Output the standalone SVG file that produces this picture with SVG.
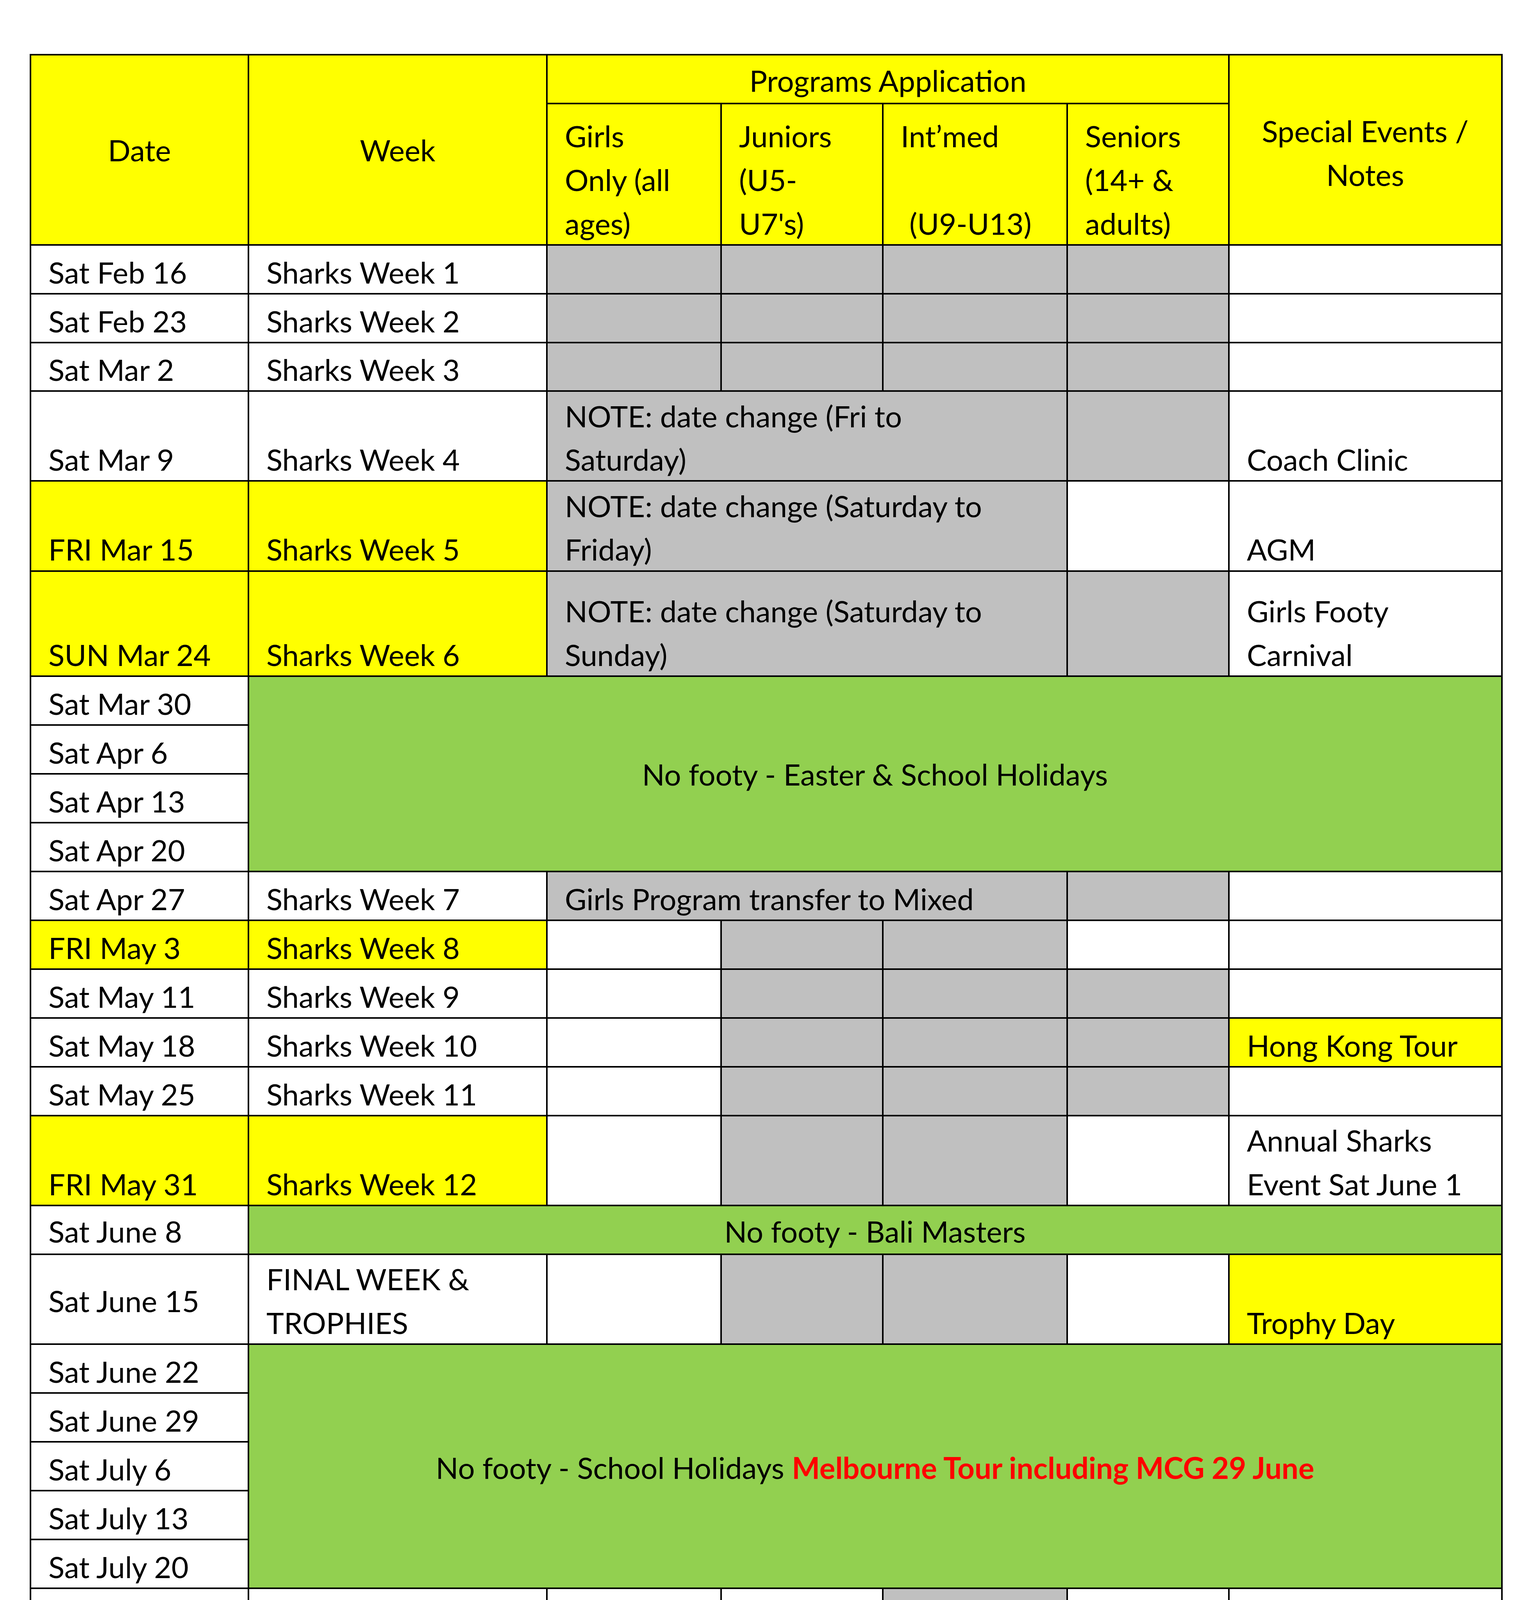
<svg xmlns="http://www.w3.org/2000/svg" width="3922" height="5148" viewBox="0 0 3922 5148">
<style>
rect{stroke:#000;stroke-width:4}
.y{fill:#ffff00}.g{fill:#c0c0c0}.w{fill:#fff}.gr{fill:#92d050}
text{font-family:Lato,"Open Sans","Liberation Sans",sans-serif;font-size:76px;fill:#000}
.c{text-anchor:middle}
.r{fill:#ff0000;font-weight:bold}
</style>
<rect x="0" y="0" width="3922" height="5148" fill="#fff" style="stroke:none"/>
<g id="header">
<rect class="y" x="78" y="140" width="558" height="487"/>
<rect class="y" x="636" y="140" width="764" height="487"/>
<rect class="y" x="1400" y="140" width="1746" height="125"/>
<rect class="y" x="1400" y="265" width="446" height="362"/>
<rect class="y" x="1846" y="265" width="414" height="362"/>
<rect class="y" x="2260" y="265" width="472" height="362"/>
<rect class="y" x="2732" y="265" width="414" height="362"/>
<rect class="y" x="3146" y="140" width="699" height="487"/>
<text class="c" x="357" y="413">Date</text>
<text class="c" x="1018" y="413">Week</text>
<text class="c" x="2273" y="235">Programs Application</text>
<text x="1446" y="377">Girls</text><text x="1446" y="489">Only (all</text><text x="1446" y="601">ages)</text>
<text x="1892" y="377">Juniors</text><text x="1892" y="489">(U5-</text><text x="1892" y="601">U7's)</text>
<text x="2306" y="377">Int’med</text><text x="2328" y="601">(U9-U13)</text>
<text x="2778" y="377">Seniors</text><text x="2778" y="489">(14+ &amp;</text><text x="2778" y="601">adults)</text>
<text class="c" x="3495" y="364">Special Events /</text><text class="c" x="3495" y="476">Notes</text>
</g>
<g id="r1"><rect class="w" x="78" y="627" width="558" height="125"/><rect class="w" x="636" y="627" width="764" height="125"/><rect class="g" x="1400" y="627" width="446" height="125"/><rect class="g" x="1846" y="627" width="414" height="125"/><rect class="g" x="2260" y="627" width="472" height="125"/><rect class="g" x="2732" y="627" width="414" height="125"/><rect class="w" x="3146" y="627" width="699" height="125"/>
<text x="124" y="726">Sat Feb 16</text><text x="682" y="726">Sharks Week 1</text></g>
<g id="r2"><rect class="w" x="78" y="752" width="558" height="125"/><rect class="w" x="636" y="752" width="764" height="125"/><rect class="g" x="1400" y="752" width="446" height="125"/><rect class="g" x="1846" y="752" width="414" height="125"/><rect class="g" x="2260" y="752" width="472" height="125"/><rect class="g" x="2732" y="752" width="414" height="125"/><rect class="w" x="3146" y="752" width="699" height="125"/>
<text x="124" y="851">Sat Feb 23</text><text x="682" y="851">Sharks Week 2</text></g>
<g id="r3"><rect class="w" x="78" y="877" width="558" height="124"/><rect class="w" x="636" y="877" width="764" height="124"/><rect class="g" x="1400" y="877" width="446" height="124"/><rect class="g" x="1846" y="877" width="414" height="124"/><rect class="g" x="2260" y="877" width="472" height="124"/><rect class="g" x="2732" y="877" width="414" height="124"/><rect class="w" x="3146" y="877" width="699" height="124"/>
<text x="124" y="975">Sat Mar 2</text><text x="682" y="975">Sharks Week 3</text></g>
<g id="r4"><rect class="w" x="78" y="1001" width="558" height="230"/><rect class="w" x="636" y="1001" width="764" height="230"/><rect class="g" x="1400" y="1001" width="1332" height="230"/><rect class="g" x="2732" y="1001" width="414" height="230"/><rect class="w" x="3146" y="1001" width="699" height="230"/>
<text x="124" y="1205">Sat Mar 9</text><text x="682" y="1205">Sharks Week 4</text><text x="1446" y="1094">NOTE: date change (Fri to</text><text x="1446" y="1205">Saturday)</text><text x="3192" y="1205">Coach Clinic</text></g>
<g id="r5"><rect class="y" x="78" y="1231" width="558" height="231"/><rect class="y" x="636" y="1231" width="764" height="231"/><rect class="g" x="1400" y="1231" width="1332" height="231"/><rect class="w" x="2732" y="1231" width="414" height="231"/><rect class="w" x="3146" y="1231" width="699" height="231"/>
<text x="124" y="1435">FRI Mar 15</text><text x="682" y="1435">Sharks Week 5</text><text x="1446" y="1324">NOTE: date change (Saturday to</text><text x="1446" y="1435">Friday)</text><text x="3192" y="1435">AGM</text></g>
<g id="r6"><rect class="y" x="78" y="1462" width="558" height="269"/><rect class="y" x="636" y="1462" width="764" height="269"/><rect class="g" x="1400" y="1462" width="1332" height="269"/><rect class="g" x="2732" y="1462" width="414" height="269"/><rect class="w" x="3146" y="1462" width="699" height="269"/>
<text x="124" y="1705">SUN Mar 24</text><text x="682" y="1705">Sharks Week 6</text><text x="1446" y="1593">NOTE: date change (Saturday to</text><text x="1446" y="1705">Sunday)</text><text x="3192" y="1593">Girls Footy</text><text x="3192" y="1705">Carnival</text></g>
<g id="easter"><rect class="w" x="78" y="1731" width="558" height="125"/><rect class="w" x="78" y="1856" width="558" height="125"/><rect class="w" x="78" y="1981" width="558" height="125"/><rect class="w" x="78" y="2106" width="558" height="125"/><rect class="gr" x="636" y="1731" width="3209" height="500"/>
<text x="124" y="1830">Sat Mar 30</text><text x="124" y="1955">Sat Apr 6</text><text x="124" y="2080">Sat Apr 13</text><text x="124" y="2205">Sat Apr 20</text>
<text class="c" x="2240" y="2011">No footy - Easter &amp; School Holidays</text></g>
<g id="r7"><rect class="w" x="78" y="2231" width="558" height="125"/><rect class="w" x="636" y="2231" width="764" height="125"/><rect class="g" x="1400" y="2231" width="1332" height="125"/><rect class="g" x="2732" y="2231" width="414" height="125"/><rect class="w" x="3146" y="2231" width="699" height="125"/>
<text x="124" y="2330">Sat Apr 27</text><text x="682" y="2330">Sharks Week 7</text><text x="1446" y="2330">Girls Program transfer to Mixed</text></g>
<g id="r8"><rect class="y" x="78" y="2356" width="558" height="125"/><rect class="y" x="636" y="2356" width="764" height="125"/><rect class="w" x="1400" y="2356" width="446" height="125"/><rect class="g" x="1846" y="2356" width="414" height="125"/><rect class="g" x="2260" y="2356" width="472" height="125"/><rect class="w" x="2732" y="2356" width="414" height="125"/><rect class="w" x="3146" y="2356" width="699" height="125"/>
<text x="124" y="2455">FRI May 3</text><text x="682" y="2455">Sharks Week 8</text></g>
<g id="r9"><rect class="w" x="78" y="2481" width="558" height="125"/><rect class="w" x="636" y="2481" width="764" height="125"/><rect class="w" x="1400" y="2481" width="446" height="125"/><rect class="g" x="1846" y="2481" width="414" height="125"/><rect class="g" x="2260" y="2481" width="472" height="125"/><rect class="g" x="2732" y="2481" width="414" height="125"/><rect class="w" x="3146" y="2481" width="699" height="125"/>
<text x="124" y="2580">Sat May 11</text><text x="682" y="2580">Sharks Week 9</text></g>
<g id="r10"><rect class="w" x="78" y="2606" width="558" height="125"/><rect class="w" x="636" y="2606" width="764" height="125"/><rect class="w" x="1400" y="2606" width="446" height="125"/><rect class="g" x="1846" y="2606" width="414" height="125"/><rect class="g" x="2260" y="2606" width="472" height="125"/><rect class="g" x="2732" y="2606" width="414" height="125"/><rect class="y" x="3146" y="2606" width="699" height="125"/>
<text x="124" y="2705">Sat May 18</text><text x="682" y="2705">Sharks Week 10</text><text x="3192" y="2705">Hong Kong Tour</text></g>
<g id="r11"><rect class="w" x="78" y="2731" width="558" height="125"/><rect class="w" x="636" y="2731" width="764" height="125"/><rect class="w" x="1400" y="2731" width="446" height="125"/><rect class="g" x="1846" y="2731" width="414" height="125"/><rect class="g" x="2260" y="2731" width="472" height="125"/><rect class="g" x="2732" y="2731" width="414" height="125"/><rect class="w" x="3146" y="2731" width="699" height="125"/>
<text x="124" y="2830">Sat May 25</text><text x="682" y="2830">Sharks Week 11</text></g>
<g id="r12"><rect class="y" x="78" y="2856" width="558" height="230"/><rect class="y" x="636" y="2856" width="764" height="230"/><rect class="w" x="1400" y="2856" width="446" height="230"/><rect class="g" x="1846" y="2856" width="414" height="230"/><rect class="g" x="2260" y="2856" width="472" height="230"/><rect class="w" x="2732" y="2856" width="414" height="230"/><rect class="w" x="3146" y="2856" width="699" height="230"/>
<text x="124" y="3060">FRI May 31</text><text x="682" y="3060">Sharks Week 12</text><text x="3192" y="2948">Annual Sharks</text><text x="3192" y="3060">Event Sat June 1</text></g>
<g id="bali"><rect class="w" x="78" y="3086" width="558" height="125"/><rect class="gr" x="636" y="3086" width="3209" height="125"/>
<text x="124" y="3181">Sat June 8</text><text class="c" x="2240" y="3181">No footy - Bali Masters</text></g>
<g id="r13"><rect class="w" x="78" y="3211" width="558" height="230"/><rect class="w" x="636" y="3211" width="764" height="230"/><rect class="w" x="1400" y="3211" width="446" height="230"/><rect class="g" x="1846" y="3211" width="414" height="230"/><rect class="g" x="2260" y="3211" width="472" height="230"/><rect class="w" x="2732" y="3211" width="414" height="230"/><rect class="y" x="3146" y="3211" width="699" height="230"/>
<text x="124" y="3359">Sat June 15</text><text x="682" y="3303">FINAL WEEK &amp;</text><text x="682" y="3415">TROPHIES</text><text x="3192" y="3415">Trophy Day</text></g>
<g id="holidays"><rect class="w" x="78" y="3441" width="558" height="125"/><rect class="w" x="78" y="3566" width="558" height="125"/><rect class="w" x="78" y="3691" width="558" height="125"/><rect class="w" x="78" y="3816" width="558" height="125"/><rect class="w" x="78" y="3941" width="558" height="125"/><rect class="gr" x="636" y="3441" width="3209" height="625"/>
<text x="124" y="3540">Sat June 22</text><text x="124" y="3665">Sat June 29</text><text x="124" y="3790">Sat July 6</text><text x="124" y="3915">Sat July 13</text><text x="124" y="4040">Sat July 20</text>
<text class="c" x="2240" y="3786">No footy - School Holidays <tspan class="r">Melbourne Tour including MCG 29 June</tspan></text></g>
<g id="r14"><rect class="w" x="78" y="4066" width="558" height="125"/><rect class="w" x="636" y="4066" width="764" height="125"/><rect class="w" x="1400" y="4066" width="446" height="125"/><rect class="w" x="1846" y="4066" width="414" height="125"/><rect class="g" x="2260" y="4066" width="472" height="125"/><rect class="w" x="2732" y="4066" width="414" height="125"/><rect class="w" x="3146" y="4066" width="699" height="125"/>
<text x="124" y="4165">Sat July 27</text><text x="682" y="4165">Lightning Round 1</text></g>
<g id="r15"><rect class="w" x="78" y="4191" width="558" height="125"/><rect class="w" x="636" y="4191" width="764" height="125"/><rect class="w" x="1400" y="4191" width="446" height="125"/><rect class="w" x="1846" y="4191" width="414" height="125"/><rect class="g" x="2260" y="4191" width="472" height="125"/><rect class="w" x="2732" y="4191" width="414" height="125"/><rect class="w" x="3146" y="4191" width="699" height="125"/>
<text x="124" y="4290">Sat Aug 3</text><text x="682" y="4290">Lightning Round 2</text></g>
<g id="r16"><rect class="w" x="78" y="4316" width="558" height="125"/><rect class="w" x="636" y="4316" width="764" height="125"/><rect class="w" x="1400" y="4316" width="446" height="125"/><rect class="w" x="1846" y="4316" width="414" height="125"/><rect class="g" x="2260" y="4316" width="472" height="125"/><rect class="w" x="2732" y="4316" width="414" height="125"/><rect class="w" x="3146" y="4316" width="699" height="125"/>
<text x="124" y="4415">Sat Aug 10</text><text x="682" y="4415">Lightning Round 3</text></g>
<g id="r17"><rect class="y" x="78" y="4441" width="558" height="125"/><rect class="y" x="636" y="4441" width="764" height="125"/><rect class="w" x="1400" y="4441" width="446" height="125"/><rect class="w" x="1846" y="4441" width="414" height="125"/><rect class="g" x="2260" y="4441" width="472" height="125"/><rect class="w" x="2732" y="4441" width="414" height="125"/><rect class="w" x="3146" y="4441" width="699" height="125"/>
<text x="124" y="4540">FRI Aug 16</text><text x="682" y="4540">Lightning Round 4</text></g>
<g id="r18"><rect class="w" x="78" y="4566" width="558" height="125"/><rect class="w" x="636" y="4566" width="764" height="125"/><rect class="w" x="1400" y="4566" width="446" height="125"/><rect class="w" x="1846" y="4566" width="414" height="125"/><rect class="g" x="2260" y="4566" width="472" height="125"/><rect class="w" x="2732" y="4566" width="414" height="125"/><rect class="w" x="3146" y="4566" width="699" height="125"/>
<text x="124" y="4665">Sat Aug 24</text><text x="682" y="4665">Lightning Round 5</text></g>
<g id="r19"><rect class="w" x="78" y="4691" width="558" height="230"/><rect class="w" x="636" y="4691" width="764" height="230"/><rect class="w" x="1400" y="4691" width="446" height="230"/><rect class="w" x="1846" y="4691" width="414" height="230"/><rect class="g" x="2260" y="4691" width="472" height="230"/><rect class="w" x="2732" y="4691" width="414" height="230"/><rect class="w" x="3146" y="4691" width="699" height="230"/>
<text x="124" y="4842">Sat Aug 31</text><text x="682" y="4786">Lightning Rounds</text><text x="682" y="4898">FINALS</text><text x="3192" y="4786">Presentation</text><text x="3192" y="4898">Day</text></g>
<g id="r20"><rect class="w" x="78" y="4921" width="558" height="260"/><rect class="w" x="636" y="4921" width="764" height="260"/><rect class="w" x="1400" y="4921" width="446" height="260"/><rect class="w" x="1846" y="4921" width="414" height="260"/><rect class="g" x="2260" y="4921" width="886" height="260"/><rect class="w" x="3146" y="4921" width="699" height="260"/>
<text x="124" y="5070">September</text><text x="682" y="5070">Dates tbc</text><text x="2306" y="5013">Thailand Tour U13</text><text x="2306" y="5124">and U15 teams</text></g>
<g id="connectors"/>
</svg>
